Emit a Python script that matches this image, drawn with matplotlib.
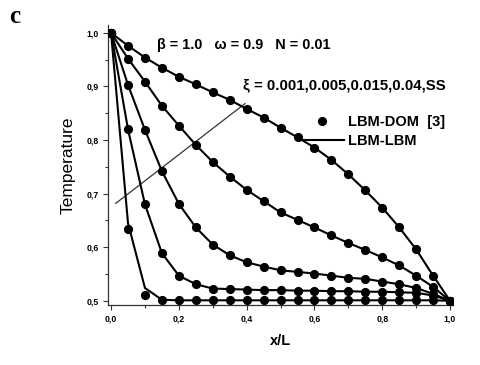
import numpy as np
import matplotlib
matplotlib.use('Agg')
from matplotlib import pyplot as plt
from matplotlib.lines import Line2D
from matplotlib.ticker import MultipleLocator, FuncFormatter

plt.rcParams['font.family'] = ['Liberation Sans', 'DejaVu Sans']

# x/L positions of the samples
x = np.linspace(0, 1, 21)

# temperature profiles, one per xi
t_ss = [1.0, 0.976, 0.954, 0.935, 0.918, 0.904, 0.889, 0.875, 0.858, 0.842, 0.823,
        0.805, 0.786, 0.763, 0.736, 0.706, 0.674, 0.637, 0.596, 0.547, 0.5]
t_004 = [1.0, 0.952, 0.909, 0.864, 0.827, 0.791, 0.759, 0.732, 0.707, 0.686, 0.665,
         0.651, 0.637, 0.622, 0.608, 0.595, 0.581, 0.566, 0.547, 0.526, 0.5]
t_0015 = [1.0, 0.903, 0.819, 0.742, 0.681, 0.637, 0.605, 0.585, 0.572, 0.564, 0.557,
          0.554, 0.551, 0.547, 0.543, 0.541, 0.536, 0.531, 0.524, 0.513, 0.5]
t_0005 = [1.0, 0.82, 0.68, 0.589, 0.547, 0.531, 0.523, 0.522, 0.521, 0.52, 0.52,
          0.519, 0.519, 0.518, 0.518, 0.517, 0.517, 0.516, 0.515, 0.51, 0.5]
# xi = 0.001: solid line and LBM-DOM dots differ a little
t_0001_line = [1.0, 0.645, 0.524, 0.502, 0.501, 0.501, 0.501, 0.501, 0.501, 0.501, 0.501,
               0.501, 0.501, 0.501, 0.501, 0.501, 0.501, 0.501, 0.501, 0.501, 0.5]
t_0001_dots = [1.0, 0.634, 0.51, 0.502, 0.502, 0.502, 0.502, 0.502, 0.502, 0.502, 0.502,
               0.502, 0.502, 0.502, 0.502, 0.502, 0.502, 0.502, 0.502, 0.502, 0.5]

# guide line crossing the curves
guide_x = [0.014, 0.395]
guide_y = [0.682, 0.868]

xticks = [0.0, 0.2, 0.4, 0.6, 0.8, 1.0]
yticks = [0.5, 0.6, 0.7, 0.8, 0.9, 1.0]

fig = plt.figure(figsize=(4.8, 3.65), dpi=100)
ax = fig.add_axes([0.225, 0.164, 0.719, 0.768])

lines = [t_ss, t_004, t_0015, t_0005, t_0001_line]
dots = [t_ss, t_004, t_0015, t_0005, t_0001_dots]
for ly in lines:
    ax.plot(x, ly, color='black', lw=1.5, zorder=2)
for dy in dots:
    ax.plot(x, dy, 'o', color='black', ms=5.6, zorder=3)

ax.plot(guide_x, guide_y, color='#333333', lw=0.9, zorder=1)

ax.set_xlim(-0.009, 1.009)
ax.set_ylim(0.492, 1.015)
ax.spines['top'].set_visible(False)
ax.spines['right'].set_visible(False)
for s in ['left', 'bottom']:
    ax.spines[s].set_linewidth(0.9)
    ax.spines[s].set_color('#333333')

ax.set_xticks(xticks)
ax.set_yticks(yticks)
ax.xaxis.set_minor_locator(MultipleLocator(0.1))
ax.yaxis.set_minor_locator(MultipleLocator(0.05))
fmt = FuncFormatter(lambda v, p: ('%.1f' % v).replace('.', ','))
ax.xaxis.set_major_formatter(fmt)
ax.yaxis.set_major_formatter(fmt)
ax.tick_params(which='major', direction='out', length=3.5, width=0.8, color='#333333',
               labelsize=6.3, pad=3)
ax.tick_params(which='minor', direction='out', length=2.5, width=0.8, color='#333333')
for lab in ax.get_xticklabels() + ax.get_yticklabels():
    lab.set_fontweight('bold')

ax.set_ylabel('Temperature', fontsize=12.5, labelpad=8)
ax.set_xlabel('x/L', fontsize=10.5, fontweight='bold', labelpad=8)

ax.text(0.136, 0.978, 'β = 1.0   ω = 0.9   N = 0.01',
        fontsize=10.4, fontweight='bold', va='center')
ax.text(0.389, 0.903, 'ξ = 0.001,0.005,0.015,0.04,SS',
        fontsize=10.8, fontweight='bold', va='center')

handles = [Line2D([], [], ls='none', marker='o', color='black', ms=5.6),
           Line2D([], [], color='black', lw=1.5)]
ax.legend(handles, ['LBM-DOM  [3]', 'LBM-LBM'], loc='upper left',
          bbox_to_anchor=(0.54, 0.698), frameon=False,
          prop={'weight': 'bold', 'size': 10.5}, handlelength=3.0,
          handletextpad=0.3, labelspacing=0.35, borderaxespad=0)

fig.text(0.018, 0.955, 'c', fontsize=18, fontweight='bold', family='Liberation Serif',
         va='center')

fig.savefig('out.png', dpi=100)
